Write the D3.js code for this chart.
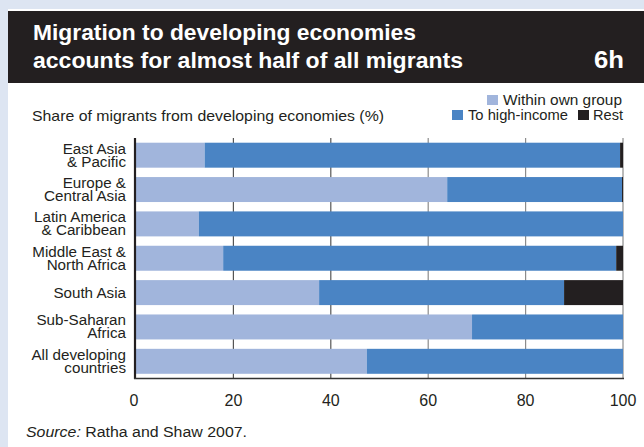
<!DOCTYPE html>
<html>
<head>
<meta charset="utf-8">
<script src="https://cdn.jsdelivr.net/npm/d3@7"></script>
<style>
  html, body { margin: 0; padding: 0; background: #dde5f2; }
  svg { display: block; }
  text { font-family: "Liberation Sans", Arial, sans-serif; }
</style>
</head>
<body>
<script>
// Regions of origin (top to bottom)
const regions = [
  ["East Asia", "& Pacific"],
  ["Europe &", "Central Asia"],
  ["Latin America", "& Caribbean"],
  ["Middle East &", "North Africa"],
  ["South Asia"],
  ["Sub-Saharan", "Africa"],
  ["All developing", "countries"]
];
// Share of migrants (%) by destination
const withinOwnGroup = [14.1, 63.9, 12.9, 17.9, 37.6, 69.0, 47.4];
const toHighIncome   = [85.3, 35.9, 87.1, 80.7, 50.3, 31.0, 52.6];
const rest           = [0.6, 0.2, 0.0, 1.4, 12.1, 0.0, 0.0];
const xTicks = [0, 20, 40, 60, 80, 100];

const seriesNames = ["Within own group", "To high-income", "Rest"];
const colors = ["#a1b5dc", "#4a84c4", "#231f20"];
const ink = "#231f20";

const W = 644, H = 447;
const svg = d3.select("body").append("svg").attr("width", W).attr("height", H);

// white panel
svg.append("rect").attr("x", 8).attr("y", 9).attr("width", W - 8).attr("height", H - 9).attr("fill", "#fff");

// title band
svg.append("rect").attr("x", 8).attr("y", 11).attr("width", W - 8).attr("height", 72).attr("fill", ink);
const titleLines = [
  { t: "Migration to developing economies", w: 383 },
  { t: "accounts for almost half of all migrants", w: 430 }
];
svg.append("g").selectAll("text").data(titleLines).join("text")
  .attr("x", 33).attr("y", (d, i) => 39.5 + i * 28)
  .attr("fill", "#fff").attr("font-size", 22).attr("font-weight", "bold")
  .attr("textLength", d => d.w).attr("lengthAdjust", "spacingAndGlyphs")
  .text(d => d.t);
svg.append("text").attr("x", 594).attr("y", 67.5)
  .attr("fill", "#fff").attr("font-size", 23).attr("font-weight", "bold")
  .attr("textLength", 30).attr("lengthAdjust", "spacingAndGlyphs").text("6h");

// subtitle
svg.append("text").attr("x", 32).attr("y", 121).attr("font-size", 14.5).attr("fill", ink)
  .attr("textLength", 352).attr("lengthAdjust", "spacingAndGlyphs")
  .text("Share of migrants from developing economies (%)");

// legend
const legendItems = [
  { name: seriesNames[0], color: colors[0], x: 487, y: 95, w: 119 },
  { name: seriesNames[1], color: colors[1], x: 452, y: 110, w: 100 },
  { name: seriesNames[2], color: colors[2], x: 578, y: 110, w: 30 }
];
const lg = svg.append("g").selectAll("g").data(legendItems).join("g")
  .attr("transform", d => `translate(${d.x},${d.y})`);
lg.append("rect").attr("width", 11).attr("height", 10).attr("fill", d => d.color);
lg.append("text").attr("x", d => d.name === "Rest" ? 15 : 16).attr("y", 9.5)
  .attr("font-size", 14.5).attr("fill", ink)
  .attr("textLength", d => d.w).attr("lengthAdjust", "spacingAndGlyphs")
  .text(d => d.name);

// scales
const plotTop = 138, plotBottom = 378.5;
const x = d3.scaleLinear().domain([0, 100]).range([136, 623]);
const y = d3.scaleBand().domain(d3.range(regions.length)).range([plotTop, plotBottom])
  .paddingInner(0.273).paddingOuter(0.137);

// gridlines
svg.append("g").selectAll("line").data(xTicks.slice(1)).join("line")
  .attr("x1", d => x(d)).attr("x2", d => x(d)).attr("y1", plotTop).attr("y2", plotBottom)
  .attr("stroke", (d, i) => i < 2 ? "#555" : "#8c8c8c").attr("stroke-width", 1.2);

// stacked bars
const rows = regions.map((r, i) => ({ i, within: withinOwnGroup[i], high: toHighIncome[i], rest: rest[i] }));
const stack = d3.stack().keys(["within", "high", "rest"])(rows);
svg.append("g").selectAll("g").data(stack).join("g")
  .attr("fill", (d, k) => colors[k])
  .selectAll("rect").data(d => d).join("rect")
  .attr("x", d => x(d[0])).attr("width", d => Math.max(0, x(d[1]) - x(d[0])))
  .attr("y", d => y(d.data.i)).attr("height", y.bandwidth());

// axis lines
svg.append("line").attr("x1", 135).attr("x2", 135).attr("y1", plotTop).attr("y2", plotBottom + 0.5)
  .attr("stroke", ink).attr("stroke-width", 2.2);
svg.append("line").attr("x1", 134).attr("x2", 624).attr("y1", plotBottom).attr("y2", plotBottom)
  .attr("stroke", "#333").attr("stroke-width", 1.3);

// tick labels
svg.append("g").selectAll("text").data(xTicks).join("text")
  .attr("x", d => x(d) - (d === 0 ? 2 : 0)).attr("y", 405.5).attr("text-anchor", "middle")
  .attr("font-size", 16).attr("fill", ink).text(d => d);

// category labels
const cl = svg.append("g").selectAll("text").data(regions).join("text")
  .attr("text-anchor", "end").attr("font-size", 15.2).attr("fill", ink)
  .attr("transform", (d, i) => `translate(126,${y(i) + y.bandwidth() / 2})`);
cl.selectAll("tspan").data(d => d.map((t, j) => ({ t, j, n: d.length }))).join("tspan")
  .attr("x", 0)
  .attr("y", d => (d.j - (d.n - 1) / 2) * 13 + 5)
  .text(d => d.t);

// source
const src = svg.append("text").attr("x", 26).attr("y", 437).attr("font-size", 14).attr("fill", ink)
  .attr("textLength", 221).attr("lengthAdjust", "spacingAndGlyphs");
src.append("tspan").attr("font-style", "italic").text("Source:");
src.append("tspan").text(" Ratha and Shaw 2007.");
</script>
</body>
</html>
